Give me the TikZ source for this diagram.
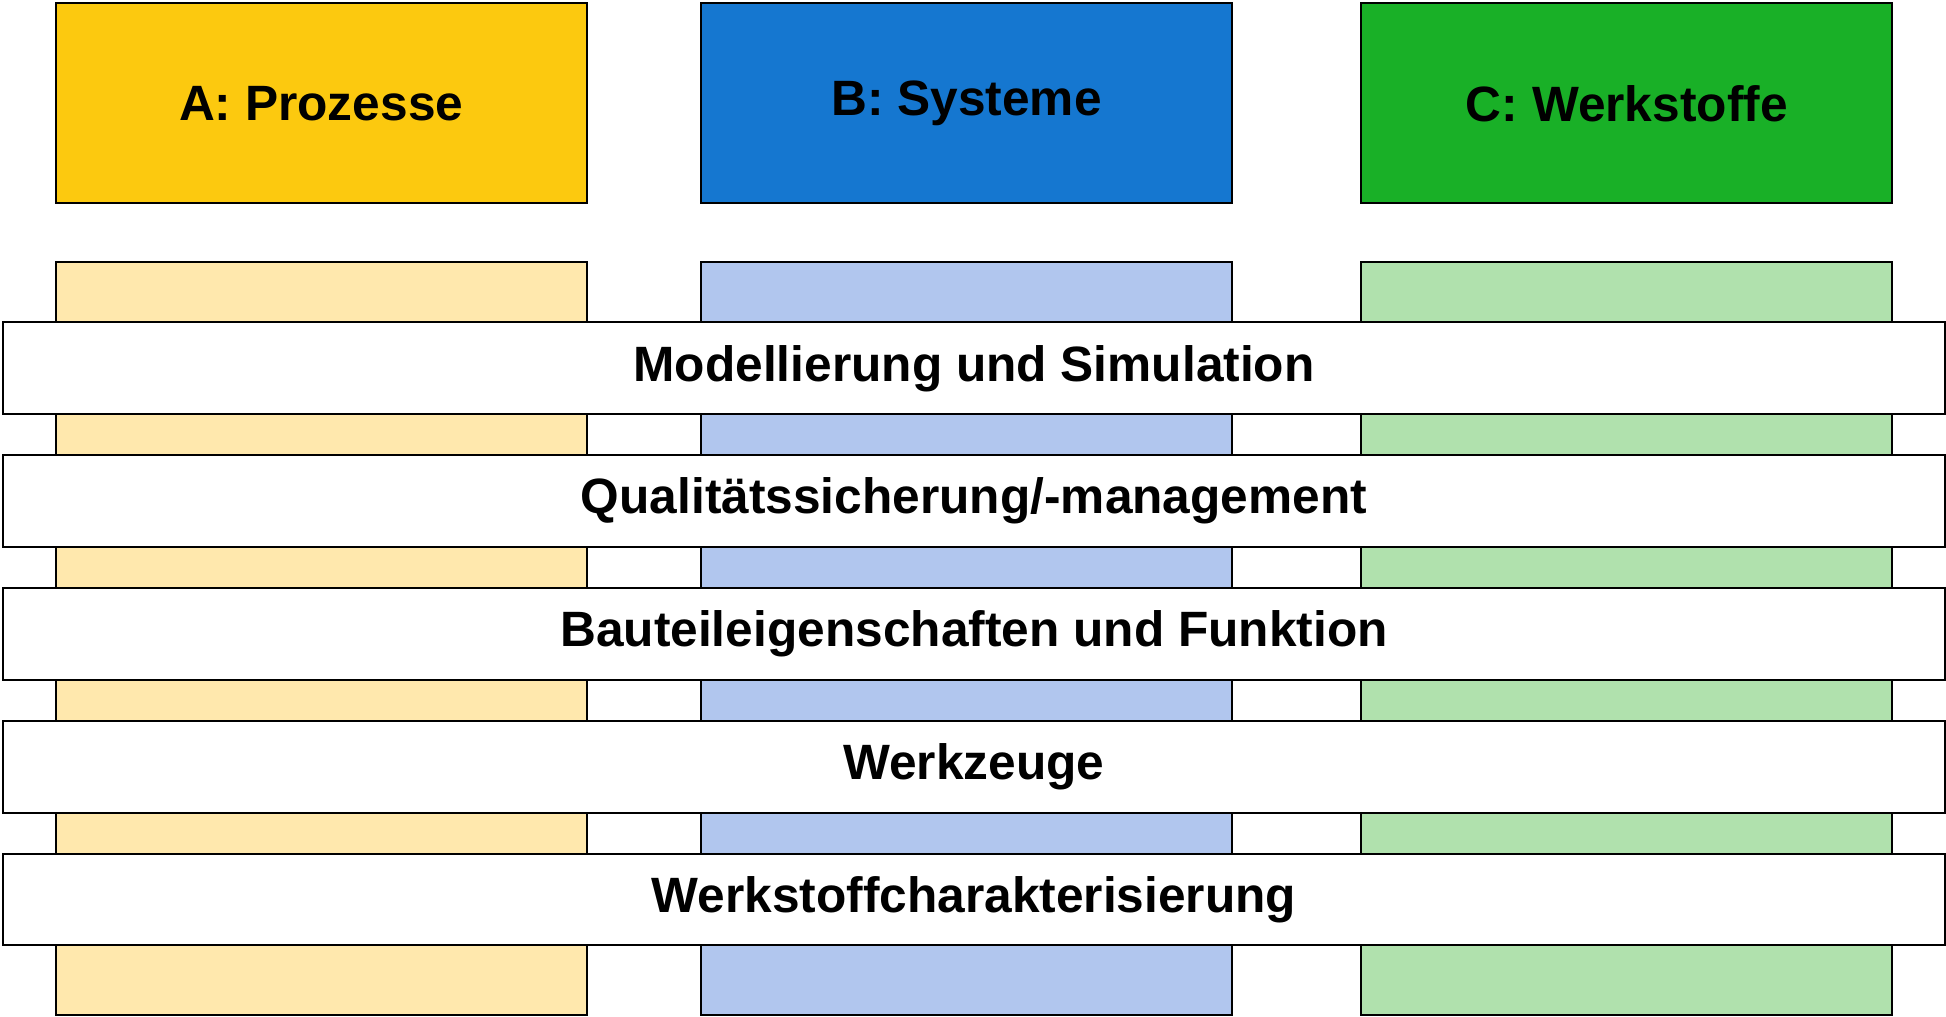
\documentclass[tikz,border=0pt]{standalone}
\usepackage{fontspec}
\setmainfont{Liberation Sans}
\definecolor{cA}{HTML}{FCC90F}
\definecolor{cAl}{HTML}{FFE8AD}
\definecolor{cB}{HTML}{1577D0}
\definecolor{cBl}{HTML}{B1C6EE}
\definecolor{cC}{HTML}{19B027}
\definecolor{cCl}{HTML}{B0E1AD}
\begin{document}
\begin{tikzpicture}[x=1pt,y=-1pt,
  headbox/.style={draw=black,line width=1.6pt,minimum width=428pt,minimum height=161pt,anchor=north west,inner sep=0pt,
    font=\fontsize{40}{48}\selectfont\bfseries},
  colbox/.style={draw=black,line width=1.6pt,minimum width=428pt,minimum height=607pt,anchor=north west,inner sep=0pt},
  band/.style={draw=black,fill=white,line width=1.6pt,minimum width=1564pt,minimum height=74pt,anchor=north west,inner sep=0pt,
    font=\fontsize{40}{48}\selectfont\bfseries}]
\useasboundingbox (0,0) rectangle (1568,819);
% header boxes
\node[headbox,fill=cA] (A) at (44,2) {A: Prozesse};
\node[headbox,fill=cB] (B) at (564,2) {B: Systeme};
\node[headbox,fill=cC] (C) at (1096,2) {C: Werkstoffe};
% columns
\node[colbox,fill=cAl] (Acol) at (44,210) {};
\node[colbox,fill=cBl] (Bcol) at (564,210) {};
\node[colbox,fill=cCl] (Ccol) at (1096,210) {};
% bands
\node[band] (b1) at (2,259) {Modellierung und Simulation};
\node[band] (b2) at (2,366) {Qualitätssicherung/-management};
\node[band] (b3) at (2,473) {Bauteileigenschaften und Funktion};
\node[band] (b4) at (2,580) {Werkzeuge};
\node[band] (b5) at (2,687) {Werkstoffcharakterisierung};
\end{tikzpicture}
\end{document}
